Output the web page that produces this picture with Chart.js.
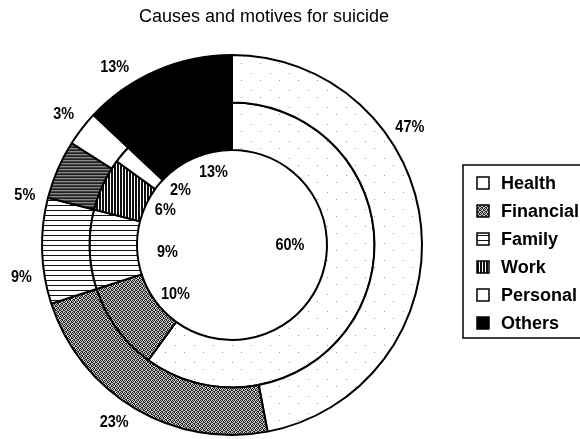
<!DOCTYPE html>
<html>
<head>
<meta charset="utf-8">
<script src="https://cdn.jsdelivr.net/npm/chart.js@4.4.0/dist/chart.umd.min.js"></script>
<style>
  html, body { margin: 0; padding: 0; background: #fff; }
</style>
</head>
<body>
<canvas id="chart" width="580" height="439"></canvas>
<script>
const titleText = 'Causes and motives for suicide';
const causes = ['Health', 'Financial', 'Family', 'Work', 'Personal', 'Others'];
const outerShares = [47, 23, 9, 5, 3, 13];
const innerShares = [60, 10, 9, 6, 2, 13];

// little tiles so the rings look like the old b/w print
function makePattern(w, h, paint) {
  const c = document.createElement('canvas');
  c.width = w;
  c.height = h;
  const g = c.getContext('2d');
  paint(g);
  return g.createPattern(c, 'repeat');
}

const dotted = makePattern(19, 17, g => {
  g.fillStyle = '#fff'; g.fillRect(0, 0, 19, 17);
  g.fillStyle = '#999'; g.fillRect(4, 5, 1, 1); g.fillRect(13, 12, 1, 1);
});
const grey = makePattern(4, 4, g => {
  g.fillStyle = '#d0d0d0'; g.fillRect(0, 0, 4, 4);
  g.fillStyle = '#1a1a1a';
  [[0, 0], [2, 0], [1, 1], [3, 1], [0, 2], [3, 2], [1, 3], [2, 3]].forEach(([x, y]) => g.fillRect(x, y, 1, 1));
});
const hStripes = makePattern(6, 5, g => {
  g.fillStyle = '#fff'; g.fillRect(0, 0, 6, 5);
  g.fillStyle = '#111'; g.fillRect(0, 0, 6, 1);
});
const vStripes = makePattern(3, 4, g => {
  g.fillStyle = '#fff'; g.fillRect(0, 0, 3, 4);
  g.fillStyle = '#111'; g.fillRect(0, 0, 2, 4);
});
const darkLines = makePattern(4, 3, g => {
  g.fillStyle = '#222'; g.fillRect(0, 0, 4, 1);
  g.fillStyle = '#8a8a8a'; g.fillRect(0, 1, 4, 1);
  g.fillStyle = '#444'; g.fillRect(0, 2, 4, 1);
});

const outerFills = [dotted, grey, hStripes, darkLines, '#fff', '#000'];
const innerFills = [dotted, grey, hStripes, vStripes, '#fff', '#000'];
const legendFills = ['#fff', grey, hStripes, vStripes, '#fff', '#000'];

const ringLabels = {
  id: 'ringLabels',
  afterDatasetsDraw(chart, args, opts) {
    const ctx = chart.ctx;
    ctx.save();
    ctx.font = opts.font;
    ctx.fillStyle = '#000';
    ctx.textAlign = 'center';
    ctx.textBaseline = 'middle';
    chart.data.datasets.forEach((ds, di) => {
      chart.getDatasetMeta(di).data.forEach((arc, i) => {
        const p = arc.getProps(['x', 'y', 'startAngle', 'endAngle', 'innerRadius', 'outerRadius'], true);
        const a = (p.startAngle + p.endAngle) / 2 + (opts.nudge[di][i] || 0) * Math.PI / 180;
        const r = di === 0 ? p.outerRadius + opts.outside : p.innerRadius - opts.inside[i];
        // narrow the glyphs a bit, the print uses a condensed gothic face
        ctx.save();
        ctx.translate(p.x + Math.cos(a) * r, p.y + Math.sin(a) * r);
        ctx.scale(opts.squeeze, 1);
        ctx.fillText(ds.data[i] + '%', 0, 0);
        ctx.restore();
      });
    });
    ctx.restore();
  }
};

const titleAndLegend = {
  id: 'titleAndLegend',
  afterDraw(chart, args, opts) {
    const ctx = chart.ctx;
    const area = chart.chartArea;
    ctx.save();
    ctx.fillStyle = '#000';
    ctx.font = opts.titleFont;
    ctx.textAlign = 'center';
    ctx.textBaseline = 'middle';
    ctx.fillText(titleText, opts.titleX, opts.titleY);

    // legend box, runs off the right edge like the scan
    const cy = (area.top + area.bottom) / 2;
    const left = area.right - 1;
    const top = cy - 80;
    const rowH = 28;
    ctx.lineWidth = 1.5;
    ctx.strokeStyle = '#000';
    ctx.strokeRect(left, top, 140, 18 + rowH * (causes.length - 1) + 15);
    ctx.font = opts.legendFont;
    ctx.textAlign = 'left';
    causes.forEach((name, i) => {
      const y = top + 18 + i * rowH;
      ctx.fillStyle = legendFills[i];
      ctx.fillRect(left + 14, y - 6, 12, 12);
      ctx.lineWidth = 1.5;
      ctx.strokeRect(left + 14, y - 6, 12, 12);
      ctx.fillStyle = '#000';
      ctx.fillText(name, left + 38, y + 1);
    });
    ctx.restore();
  }
};

new Chart(document.getElementById('chart'), {
  type: 'doughnut',
  data: {
    labels: causes,
    datasets: [
      { data: outerShares, backgroundColor: outerFills, borderColor: '#000', borderWidth: 2 },
      { data: innerShares, backgroundColor: innerFills, borderColor: '#000', borderWidth: 2 }
    ]
  },
  options: {
    responsive: false,
    animation: false,
    cutout: '50%',
    layout: { padding: { top: 54, bottom: 3, left: 0, right: 116 } },
    plugins: {
      legend: { display: false },
      tooltip: { enabled: false },
      ringLabels: {
        font: 'bold 17px "Liberation Sans"',
        squeeze: 0.85,
        outside: 23,
        inside: [37, 20, 30, 20, 20, 20],
        nudge: [[-28, 3, -7, -10, 0, -10], [-18, -5, -5, 2, 7, 9]]
      },
      titleAndLegend: {
        titleFont: '18px "Liberation Sans"',
        titleX: 264,
        titleY: 17,
        legendFont: 'bold 18px "Liberation Sans"'
      }
    }
  },
  plugins: [ringLabels, titleAndLegend]
});
</script>
</body>
</html>
